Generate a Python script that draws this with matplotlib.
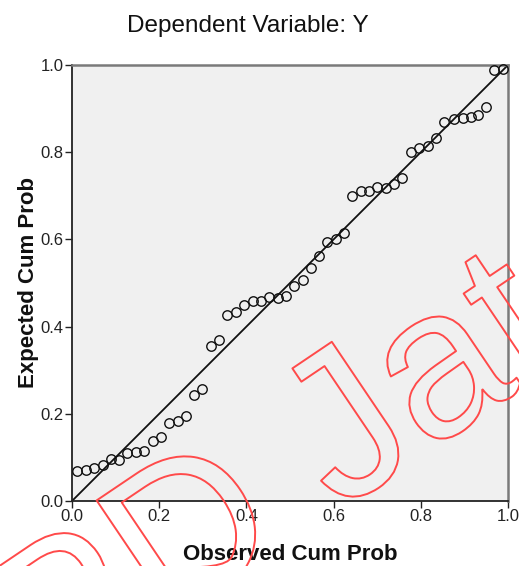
#!/usr/bin/env python3
# -*- coding: utf-8 -*-
"""
Normal P-P plot of regression standardized residual
Dependent Variable: Y
"""

import matplotlib
matplotlib.use("Agg")
import matplotlib.pyplot as plt
import matplotlib.patheffects as pe

plt.rcParams["font.family"] = ["Liberation Sans", "DejaVu Sans"]

# observed cumulative probability (x axis)
observed = [
    0.011, 0.031, 0.050, 0.070, 0.089, 0.108, 0.127, 0.147, 0.166, 0.185,
    0.204, 0.222, 0.242, 0.261, 0.280, 0.299, 0.318, 0.337, 0.356, 0.375,
    0.394, 0.414, 0.433, 0.452, 0.472, 0.491, 0.510, 0.529, 0.548, 0.567,
    0.586, 0.605, 0.624, 0.643, 0.662, 0.681, 0.700, 0.720, 0.739, 0.758,
    0.778, 0.797, 0.816, 0.835, 0.853, 0.875, 0.896, 0.914, 0.932, 0.949,
    0.968, 0.988,
]
# expected cumulative probability (y axis)
expected = [
    0.069, 0.071, 0.075, 0.083, 0.096, 0.094, 0.111, 0.113, 0.115, 0.138,
    0.147, 0.180, 0.183, 0.195, 0.243, 0.256, 0.356, 0.369, 0.427, 0.433,
    0.450, 0.459, 0.459, 0.467, 0.465, 0.471, 0.494, 0.507, 0.535, 0.562,
    0.595, 0.602, 0.615, 0.700, 0.711, 0.711, 0.721, 0.719, 0.727, 0.740,
    0.800, 0.809, 0.815, 0.832, 0.870, 0.876, 0.879, 0.881, 0.885, 0.904,
    0.989, 0.991,
]
ticks = [0.0, 0.2, 0.4, 0.6, 0.8, 1.0]
tick_labels = ["0.0", "0.2", "0.4", "0.6", "0.8", "1.0"]

W, H = 519, 566
fig = plt.figure(figsize=(W / 100, H / 100), dpi=100)
ax = fig.add_axes([72 / W, 65 / H, 436 / W, 436 / H])
ax.set_facecolor("#f0f0f0")

# reference line
ax.plot([0, 1], [0, 1], color="#111111", linewidth=1.3, zorder=2)

# points
ax.plot(observed, expected, linestyle="none", marker="o", markersize=6.8,
        markerfacecolor="none", markeredgecolor="#111111",
        markeredgewidth=1.0, zorder=3, clip_on=False)

ax.set_xlim(0, 1)
ax.set_ylim(0, 1)
ax.set_xticks(ticks)
ax.set_xticklabels(tick_labels)
ax.set_yticks(ticks)
ax.set_yticklabels(tick_labels)
ax.tick_params(direction="out", length=5, width=1, color="#222222",
               labelsize=12, labelcolor="#222222", pad=1)

for side in ["left", "bottom"]:
    ax.spines[side].set_color("#222222")
    ax.spines[side].set_linewidth(1.3)
for side in ["top", "right"]:
    ax.spines[side].set_color("#7a7a7a")
    ax.spines[side].set_linewidth(1.8)

# titles
fig.text(248 / W, 1 - 26 / H, "Dependent Variable: Y", ha="center",
         va="center", fontsize=17.5, color="#111111")
fig.text(290 / W, 1 - 555 / H, "Observed Cum Prob", ha="center",
         va="center", fontsize=16, fontweight="bold", color="#111111")
fig.text(29 / W, 1 - 283 / H, "Expected Cum Prob", ha="center",
         va="center", rotation=90, fontsize=16, fontweight="bold",
         color="#111111")

# watermark
wm = fig.text(-70 / W, -222 / H, "SPD Jat", ha="left", va="baseline",
              rotation=34, rotation_mode="anchor", fontsize=152,
              color="none", zorder=10)
wm.set_path_effects([pe.Stroke(linewidth=1.4, foreground="#ff4a4a")])

fig.savefig("out.png", dpi=100)
